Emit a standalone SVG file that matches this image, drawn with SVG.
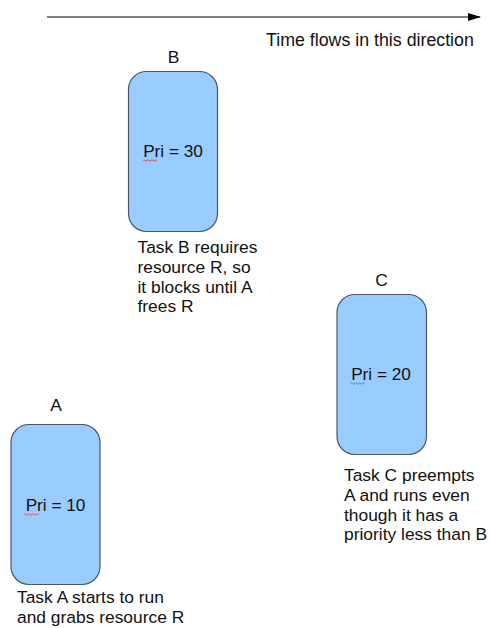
<svg xmlns="http://www.w3.org/2000/svg" width="491" height="628" viewBox="0 0 491 628">
<style>
  text { font-family: "Liberation Sans", Arial, sans-serif; fill: #111; }
  .lbl { font-size: 17.4px; text-anchor: middle; }
  .pri { font-size: 17.2px; text-anchor: middle; }
  .note { font-size: 17.4px; }
  .title { font-size: 17.8px; }
  .box { fill: #99ccff; stroke: #4a5866; stroke-width: 1.2; }
  .sq { fill: none; stroke: #e03030; stroke-width: 0.8; }
</style>
<defs>
  <marker id="arr" markerWidth="13" markerHeight="8" refX="12" refY="4" orient="auto" markerUnits="userSpaceOnUse">
    <path d="M0,0 L13,4 L0,8 Z" fill="#000"/>
  </marker>
</defs>
<rect width="491" height="628" fill="#fff"/>
<g id="connectors">
  <line x1="47" y1="17" x2="480" y2="17" stroke="#000" stroke-width="1.2" marker-end="url(#arr)"/>
</g>
<text class="title" x="266" y="45.5">Time flows in this direction</text>
<g id="nodeB">
  <text class="lbl" x="173.5" y="63">B</text>
  <rect class="box" x="128.5" y="71.5" width="89" height="160" rx="18" ry="18"/>
  <text class="pri" x="173" y="157">Pri = 30</text>
  <path class="sq" d="M143,160.5 q1,-1.5 2,0 q1,1.5 2,0 q1,-1.5 2,0 q1,1.5 2,0 q1,-1.5 2,0 q1,1.5 2,0 q1,-1.5 2,0"/>
  <text class="note" x="137.5" y="253">Task B requires</text>
  <text class="note" x="137.5" y="273">resource R, so</text>
  <text class="note" x="137.5" y="293">it blocks until A</text>
  <text class="note" x="137.5" y="312">frees R</text>
</g>
<g id="nodeC">
  <text class="lbl" x="381.5" y="286">C</text>
  <rect class="box" x="337" y="294.5" width="89.5" height="160" rx="18" ry="18"/>
  <text class="pri" x="381" y="380">Pri = 20</text>
  <path class="sq" d="M350.5,383.5 q1,-1.5 2,0 q1,1.5 2,0 q1,-1.5 2,0 q1,1.5 2,0 q1,-1.5 2,0 q1,1.5 2,0 q1,-1.5 2,0"/>
  <text class="note" x="344" y="481">Task C preempts</text>
  <text class="note" x="344" y="501">A and runs even</text>
  <text class="note" x="344" y="521">though it has a</text>
  <text class="note" x="344" y="540">priority less than B</text>
</g>
<g id="nodeA">
  <text class="lbl" x="56" y="411">A</text>
  <rect class="box" x="11" y="424.5" width="89" height="160" rx="18" ry="18"/>
  <text class="pri" x="55.5" y="511">Pri = 10</text>
  <path class="sq" d="M24.5,514.5 q1,-1.5 2,0 q1,1.5 2,0 q1,-1.5 2,0 q1,1.5 2,0 q1,-1.5 2,0 q1,1.5 2,0 q1,-1.5 2,0"/>
  <text class="note" x="17" y="603">Task A starts to run</text>
  <text class="note" x="17" y="623">and grabs resource R</text>
</g>
</svg>
